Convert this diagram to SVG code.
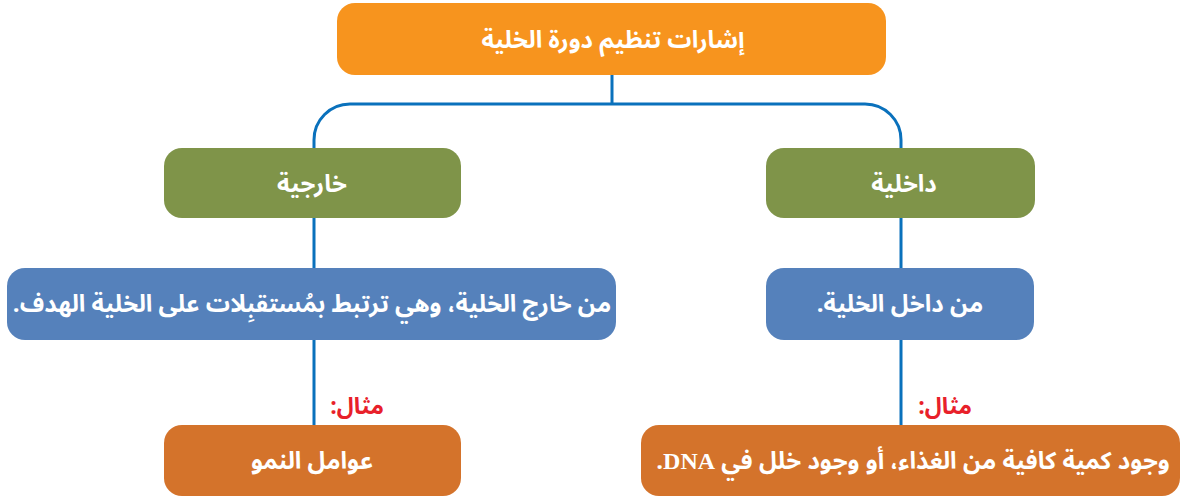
<svg xmlns="http://www.w3.org/2000/svg" width="1184" height="499" viewBox="0 0 1184 499">
<style>
.t{font-family:"Noto Sans Arabic","DejaVu Sans",sans-serif;font-size:24px;font-weight:bold;fill:#fff;text-anchor:middle;direction:rtl}
.r{font-family:"Noto Sans Arabic","DejaVu Sans",sans-serif;font-size:23px;font-weight:bold;fill:#E8202A;text-anchor:middle;direction:rtl}
.c{fill:none;stroke:#0A71BC;stroke-width:3}
.or{fill:#F7941E}
.gr{fill:#7F9449}
.bl{fill:#5581BB}
.br{fill:#D4732B}
</style>
<rect width="1184" height="499" fill="#fff"/>
<g id="connectors">
<path class="c" d="M612 75 V104"/>
<path class="c" d="M314 148 V140 A36 36 0 0 1 350 104 H865 A36 36 0 0 1 901 140 V148"/>
<path class="c" d="M314 218 V268 M314 340 V425"/>
<path class="c" d="M901 218 V268 M901 340 V425"/>
</g>
<g id="root"><rect class="or" x="337" y="3" width="549" height="72" rx="18"/><text class="t" x="613" y="48">إشارات تنظيم دورة الخلية</text></g>
<g id="external"><rect class="gr" x="164" y="148" width="297" height="70" rx="18"/><text class="t" x="312" y="192">خارجية</text></g>
<g id="internal"><rect class="gr" x="766" y="148" width="269" height="70" rx="18"/><text class="t" x="904" y="192">داخلية</text></g>
<g id="external-desc"><rect class="bl" x="7" y="268" width="609" height="72" rx="18"/><text class="t" x="312" y="312">من خارج الخلية، وهي ترتبط بمُستقبِلات على الخلية الهدف.</text></g>
<g id="internal-desc"><rect class="bl" x="766" y="268" width="268" height="72" rx="18"/><text class="t" x="900" y="312">من داخل الخلية.</text></g>
<g id="ex-label"><text class="r" x="357" y="414">مثال:</text></g>
<g id="in-label"><text class="r" x="945" y="414">مثال:</text></g>
<g id="external-example"><rect class="br" x="164" y="425" width="297" height="71" rx="18"/><text class="t" x="312" y="469">عوامل النمو</text></g>
<g id="internal-example"><rect class="br" x="641" y="425" width="539" height="71" rx="18"/><text class="t" x="913" y="469">وجود كمية كافية من الغذاء، أو وجود خلل في <tspan font-family="Liberation Serif">DNA</tspan>.</text></g>
</svg>
